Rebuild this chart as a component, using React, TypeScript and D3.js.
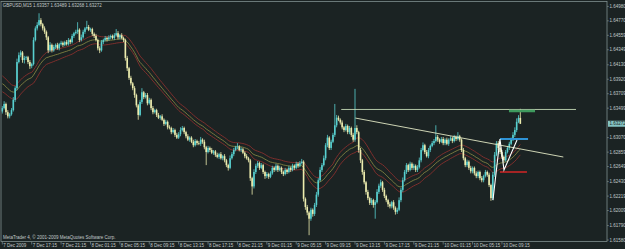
import React from 'react';
import * as d3 from 'd3';

// ---- data (prices in pips above 1.6000) ----
const basePrice = 1.6;
const pip = 0.0001;
const firstOpenPips = 345;
const closePips = [
  350,356,344,338,341,347,362,379,417,427,
  431,420,423,424,417,411,414,449,466,471,
  478,472,466,461,453,434,442,434,439,442,
  437,443,445,442,446,443,449,446,455,459,
  461,464,449,453,461,466,468,464,465,458,
  455,449,437,434,446,449,452,450,453,455,
  452,456,459,453,456,452,449,423,408,394,
  386,379,369,354,340,359,373,366,369,357,
  362,350,344,347,340,336,338,333,327,330,
  322,321,315,318,311,307,312,318,321,315,
  309,304,307,301,296,302,299,298,304,301,
  293,286,292,289,285,287,282,279,283,277,
  280,274,267,263,277,283,289,293,294,289,
  290,285,280,277,274,248,236,257,266,270,
  263,267,257,251,254,250,255,263,260,266,
  260,263,257,254,260,257,263,260,266,263,
  269,266,270,272,218,206,198,189,202,196,
  209,224,245,260,267,277,296,307,292,301,
  311,325,336,333,329,322,318,324,315,321,
  311,304,321,315,289,274,257,242,228,219,
  212,216,209,213,228,237,242,231,222,216,
  210,207,213,205,199,202,216,231,245,257,
  267,260,269,263,266,260,264,274,289,296,
  286,280,289,295,299,302,308,304,301,305,
  299,304,298,304,306,302,308,305,309,304,
  289,277,267,272,263,258,263,255,251,257,
  248,245,251,257,253,238,219,253,282,299,
  292,286,279,274,286,292,298,304,311,318,
  330,335.7,327.2,
];
const upWick = [
  3,4,2,3,2,3,4,3,5,4, 3,2,3,2,2,3,2,4,3,4, 10,3,2,3,2,2,4,2,3,2,
  3,2,3,2,2,3,3,2,3,2, 3,11,2,4,3,2,9,3,2,2, 2,3,2,3,3,2,3,2,3,2,
  2,3,6,3,2,3,2,2,3,2, 3,2,3,2,2,3,6,2,3,3, 3,2,3,2,2,3,2,3,2,3,
  2,3,2,3,2,3,3,4,3,2, 2,3,2,2,3,3,2,3,4,2, 3,2,3,2,3,2,2,3,2,3,
  2,3,2,2,4,3,3,2,5,2, 3,2,2,3,2,2,2,4,3,3, 2,3,2,2,3,2,3,3,2,3,
  2,3,2,2,3,2,3,2,3,2, 3,2,3,4,2,2,3,2,3,2, 3,4,3,4,3,4,3,4,2,3,
  3,31,4,3,2,3,2,3,2,3, 2,3,57,4,2,3,2,3,2,3, 2,3,2,3,4,3,4,2,3,2,
  2,3,2,3,2,3,4,3,4,3, 3,2,3,2,3,2,3,4,3,4, 2,3,3,2,3,3,17,3,2,3,
  3,2,3,2,3,2,3,2,6,2, 2,3,2,3,2,3,2,2,3,2, 2,3,2,3,2,3,2,4,4,3,
  3,2,3,2,3,3,3,3,4,4, 5,4,13.2,
];
const dnWick = [
  3,2,4,3,3,2,2,3,3,2, 3,4,5,3,3,4,3,2,2,3, 2,3,3,3,4,4,2,3,2,3,
  2,3,2,3,2,2,2,3,2,3, 2,3,3,2,2,3,2,2,3,3, 3,2,3,4,2,3,2,3,2,3,
  2,3,2,3,3,2,3,4,4,3, 3,3,4,3,7,2,3,3,2,3, 2,3,3,2,3,2,3,2,3,2,
  3,2,3,2,3,2,2,3,2,3, 3,2,3,2,3,2,3,2,3,3, 3,19,2,3,2,3,3,2,3,2,
  3,3,3,4,2,2,3,2,3,2, 3,2,3,2,3,4,12,3,3,3, 3,2,3,4,3,3,2,2,3,2,
  3,2,3,3,2,3,2,3,2,3, 2,3,2,2,4,4,4,24,3,4, 3,3,3,2,3,2,3,3,3,3,
  2,3,3,2,3,3,3,2,3,3, 3,3,3,3,4,4,4,3,4,3, 3,3,4,20,2,3,3,3,3,3,
  4,3,3,3,4,3,2,3,3,2, 3,3,2,3,3,3,3,2,3,2, 3,2,3,3,2,3,2,3,3,2,
  3,3,2,3,2,3,2,3,2,3, 3,3,3,3,3,3,3,3,3,3, 3,3,3,2,3,3,4,3,3,2,
  3,3,3,3,2,2,3,2,2,3, 3,2,0.4,
];

const emaPeriod = 30;
const emaSeedHigh = 400;
const emaSeedClose = 388;
const emaSeedLow = 376;

const priceLabels = [
  '1.64980','1.64770','1.64559','1.64349','1.64130','1.63920','1.63709','1.63499',
  '1.63070','1.62859','1.62649','1.62430','1.62219','1.62009','1.61790','1.61580',
];
const currentPrice = '1.63272';
const timeLabels = [
  '7 Dec 2009','7 Dec 17:15','7 Dec 21:15','8 Dec 01:15','8 Dec 05:15','8 Dec 09:15',
  '8 Dec 13:15','8 Dec 17:15','8 Dec 21:15','9 Dec 01:15','9 Dec 05:15','9 Dec 09:15',
  '9 Dec 13:15','9 Dec 17:15','9 Dec 21:15','10 Dec 01:15','10 Dec 05:15','10 Dec 09:15',
];
const barsPerLabel = 16;
const titleText = 'GBPUSD,M15  1.63357 1.63489 1.63268 1.63272';
const copyrightText = 'MetaTrader 4, \u00A9 2001-2009 MetaQuotes Software Corp.';

// drawn objects (bar index, price)
const levelLine = { from: 184.5, to: 312.3, price: 1.6348 };
const trendLine = [[192.2, 1.63355], [305.4, 1.62788]];
const zigzag = [[267.1, 1.6216], [270.9, 1.6305], [273.1, 1.626], [280.2, 1.63035]];
const blueLevel = { from: 270.9, to: 286.2, price: 1.6305 };
const redLevel = { from: 270.9, to: 285.6, price: 1.6257 };
const greenLevel = { from: 275.8, to: 290.0, price: 1.63457 };

const W = 625, H = 249;
const plotL = 1, plotT = 1.5, plotR = 607, plotB = 241.5;
const BG = '#1b2323';
const UP = '#58d0d0';
const DN = '#ececae';
const TXT = '#c2caca';
const FONT = 'Liberation Sans, Arial, sans-serif';

function ema(vals: number[], period: number, seed: number) {
  const k = 2 / (period + 1);
  const out: number[] = [];
  let e = seed;
  for (const v of vals) { e = e + k * (v - e); out.push(e); }
  return out;
}

export default function App() {
  const n = closePips.length;
  const x = d3.scaleLinear().domain([0, n - 1]).range([2.3, 2.3 + (n - 1) * 1.837]);
  const y = d3.scaleLinear().domain([1.6158, 1.6498]).range([240, 6.4]);

  const bars = closePips.map((c, i) => {
    const o = i === 0 ? firstOpenPips : closePips[i - 1];
    const h = Math.max(o, c) + upWick[i];
    const l = Math.min(o, c) - dnWick[i];
    const P = (p: number) => basePrice + p * pip;
    return { i, o: P(o), c: P(c), h: P(h), l: P(l) };
  });

  const eH = ema(bars.map(b => b.h), emaPeriod, basePrice + emaSeedHigh * pip);
  const eC = ema(bars.map(b => b.c), emaPeriod, basePrice + emaSeedClose * pip);
  const eL = ema(bars.map(b => b.l), emaPeriod, basePrice + emaSeedLow * pip);
  const line = d3.line<number>().x((_, i) => x(i)).y(v => y(v));
  const ptLine = d3.line<number[]>().x(p => x(p[0])).y(p => y(p[1]));

  return (
    <svg width={W} height={H} style={{ position: 'absolute', left: 0, top: 0, display: 'block' }}>
      <rect x={0} y={0} width={W} height={H} fill={BG} />
      <defs>
        <clipPath id="plot"><rect x={plotL} y={plotT} width={plotR - plotL} height={plotB - plotT} /></clipPath>
      </defs>
      <g clipPath="url(#plot)">
        <path d={line(eH) || ''} fill="none" stroke="#963230" strokeWidth={0.8} />
        <path d={line(eL) || ''} fill="none" stroke="#963230" strokeWidth={0.8} />
        <path d={line(eC) || ''} fill="none" stroke="#8e8e46" strokeWidth={0.8} />
        {bars.map(b => {
          const col = b.c >= b.o ? UP : DN;
          const cx = x(b.i);
          const top = y(Math.max(b.o, b.c));
          const bot = y(Math.min(b.o, b.c));
          return (
            <g key={b.i}>
              <line x1={cx} x2={cx} y1={y(b.h)} y2={y(b.l)} stroke={col} strokeWidth={0.8} />
              <rect x={cx - 0.8} y={top} width={1.6} height={Math.max(0.7, bot - top)} fill={col} />
            </g>
          );
        })}
        <line x1={x(levelLine.from)} x2={x(levelLine.to)} y1={y(levelLine.price)} y2={y(levelLine.price)} stroke="#c4d8b4" strokeWidth={0.9} />
        <path d={ptLine(trendLine) || ''} stroke="#e2e8c4" strokeWidth={0.9} fill="none" />
        <line x1={x(greenLevel.from)} x2={x(greenLevel.to)} y1={y(greenLevel.price)} y2={y(greenLevel.price)} stroke="#3f9a5e" strokeWidth={2.6} />
        <line x1={x(blueLevel.from)} x2={x(blueLevel.to)} y1={y(blueLevel.price)} y2={y(blueLevel.price)} stroke="#2f93d6" strokeWidth={2} />
        <line x1={x(redLevel.from)} x2={x(redLevel.to)} y1={y(redLevel.price)} y2={y(redLevel.price)} stroke="#d42626" strokeWidth={1.5} />
        <path d={ptLine(zigzag) || ''} stroke="#ffffff" strokeWidth={1.1} fill="none" />
      </g>
      <rect x={plotL} y={plotT} width={plotR - plotL} height={plotB - plotT} fill="none" stroke="#7e8e8e" strokeWidth={0.8} />
      <text x={2.7} y={6.6} fill={TXT} fontSize={4.5} fontFamily={FONT}>{titleText}</text>
      <text x={3} y={238.6} fill={TXT} fontSize={4.5} fontFamily={FONT}>{copyrightText}</text>
      {priceLabels.map(t => {
        const yy = y(+t);
        return (
          <g key={t}>
            <line x1={plotR} x2={plotR + 1.8} y1={yy} y2={yy} stroke="#7e8e8e" strokeWidth={0.7} />
            <text x={609.5} y={yy + 1.6} fill={TXT} fontSize={4.5} fontFamily={FONT}>{t}</text>
          </g>
        );
      })}
      <g>
        <rect x={608} y={y(+currentPrice) - 3} width={17} height={6} fill="#84c4c4" />
        <text x={609.5} y={y(+currentPrice) + 1.6} fill="#1b2323" fontSize={4.5} fontFamily={FONT}>{currentPrice}</text>
      </g>
      {timeLabels.map((t, k) => {
        const xx = x(k * barsPerLabel);
        return (
          <g key={t}>
            <line x1={xx} x2={xx} y1={plotB} y2={plotB + 3} stroke="#7e8e8e" strokeWidth={0.7} />
            <text x={xx + 1} y={247.3} fill={TXT} fontSize={4.5} fontFamily={FONT}>{t}</text>
          </g>
        );
      })}
    </svg>
  );
}
